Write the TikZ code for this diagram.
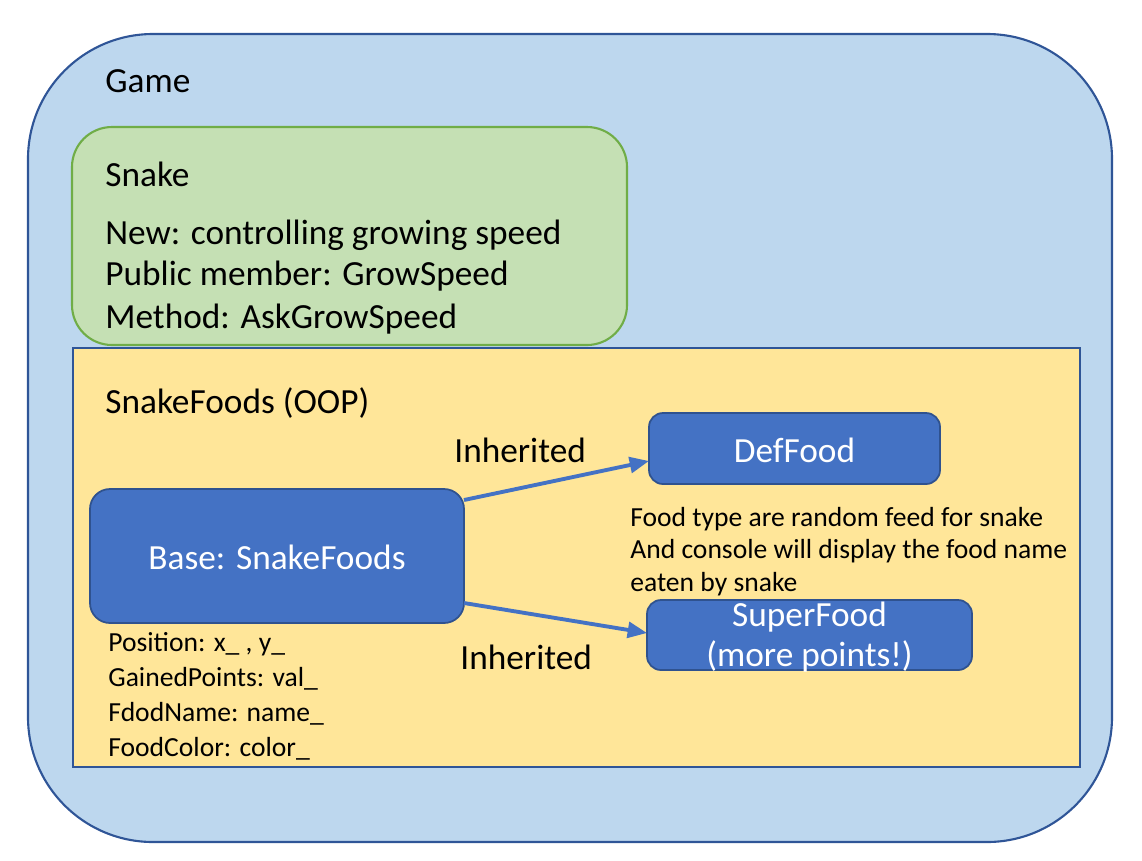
\documentclass[tikz,border=0pt]{standalone}
\usepackage{fontspec}
\setmainfont{Carlito}
\usetikzlibrary{arrows.meta}
\definecolor{gamefill}{HTML}{BDD7EE}
\definecolor{gameline}{HTML}{2F5597}
\definecolor{snakefill}{HTML}{C5E0B4}
\definecolor{snakeline}{HTML}{70AD47}
\definecolor{foodfill}{HTML}{FFE699}
\definecolor{nodeblue}{HTML}{4472C4}
\definecolor{nodeline}{HTML}{2F528F}
\tikzset{
  big/.style={font=\fontsize{20.1}{24}\selectfont, anchor=base west, inner sep=0pt},
  small/.style={font=\fontsize{15.7}{19}\selectfont, anchor=base west, inner sep=0pt},
  classbox/.style={draw=nodeline, fill=nodeblue, line width=1pt},
  classtext/.style={font=\fontsize{20.1}{24}\selectfont, text=white, align=center},
  inh/.style={draw=nodeblue, line width=2.2pt, -{Stealth[length=11pt,width=9pt,inset=0pt]}}
}
\begin{document}
\begin{tikzpicture}[x=0.02cm,y=-0.02cm]
\useasboundingbox (0,0) rectangle (1142,860);
% Game
\draw[gameline, fill=gamefill, line width=1.2pt, rounded corners=125*0.02cm] (28,34) rectangle (1112,842);
\node[big] (game) at (105,92) {Game};
% Snake
\draw[snakeline, fill=snakefill, line width=1.2pt, rounded corners=40*0.02cm] (72,127) rectangle (627,345);
\node[big] (snake) at (105,186) {Snake};
\node[big] (s1) at (105,244) {New: controlling growing speed};
\node[big] (s2) at (105,285) {Public member: GrowSpeed};
\node[big] (s3) at (105,328) {Method: AskGrowSpeed};
% SnakeFoods
\draw[gameline, fill=foodfill, line width=1.2pt] (73,348) rectangle (1080,767);
\node[big] (sf) at (105,413) {SnakeFoods (OOP)};
% class boxes
\path[classbox, rounded corners=20*0.02cm] (90,489) rectangle (464,623);
\node[classtext] (base) at (277,557) {Base: SnakeFoods};
\coordinate (baseA) at (464,500);
\coordinate (baseB) at (464,603);
\path[classbox, rounded corners=14*0.02cm] (649,413) rectangle (940,484);
\node[classtext] (def) at (794.5,450) {DefFood};
\coordinate (defW) at (649,461);
\path[classbox, rounded corners=14*0.02cm] (647,600) rectangle (972,670);
\node[classtext] (sup) at (809.5,637) {SuperFood\\[-1pt](more points!)};
\coordinate (supW) at (647,633);
% arrows
\draw[inh] (baseA) -- (defW);
\draw[inh] (baseB) -- (supW);
\node[big] (inh1) at (454,462) {Inherited};
\node[big] (inh2) at (460,669) {Inherited};
% description
\node[small] (d1) at (630,526) {Food type are random feed for snake};
\node[small] (d2) at (630,558) {And console will display the food name};
\node[small] (d3) at (630,591) {eaten by snake};
% members
\node[small] (m1) at (108,651) {Position: x\_ , y\_};
\node[small] (m2) at (108,686) {GainedPoints: val\_};
\node[small] (m3) at (108,721) {FdodName: name\_};
\node[small] (m4) at (108,756) {FoodColor: color\_};
\end{tikzpicture}
\end{document}
